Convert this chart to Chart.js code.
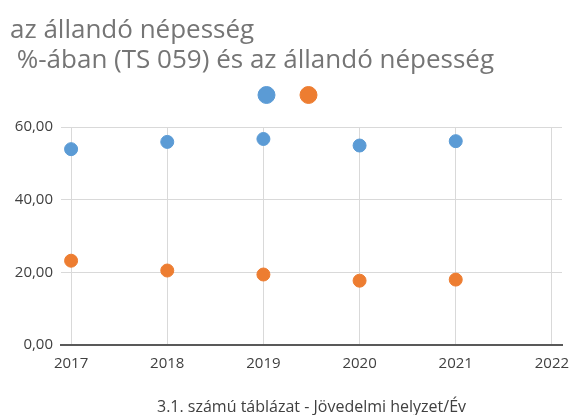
<!DOCTYPE html>
<html>
<head>
<meta charset="utf-8">
<script src="https://cdn.jsdelivr.net/npm/chart.js@4.4.0/dist/chart.umd.min.js"></script>
<style>
  html, body { margin: 0; padding: 0; background: #ffffff; }
  #wrap { width: 571px; height: 415px; }
</style>
</head>
<body>
<div id="wrap"><canvas id="c" width="571" height="415"></canvas></div>
<script>
const years = [2017, 2018, 2019, 2020, 2021];
const xTicks = [2017, 2018, 2019, 2020, 2021, 2022];
const yTicks = [0, 20, 40, 60];
const seriesBlue = [53.9, 55.9, 56.7, 54.9, 56.1];
const seriesOrange = [23.2, 20.5, 19.4, 17.7, 18.0];
const titleLines = ['az állandó népesség', ' %-ában (TS 059) és az állandó népesség'];
const xTitle = '3.1. számú táblázat - Jövedelmi helyzet/Év';

const toPts = (vals) => vals.map((v, i) => ({ x: years[i], y: v }));
const FONT = "'Open Sans', 'Noto Sans', sans-serif";

new Chart(document.getElementById('c'), {
  type: 'scatter',
  data: {
    datasets: [
      { label: '', data: toPts(seriesBlue), backgroundColor: '#5b9bd5', borderColor: '#5b9bd5', pointRadius: 6.5, pointHoverRadius: 6.5 },
      { label: '', data: toPts(seriesOrange), backgroundColor: '#ed7d31', borderColor: '#ed7d31', pointRadius: 6.5, pointHoverRadius: 6.5 }
    ]
  },
  options: {
    responsive: false,
    animation: false,
    devicePixelRatio: 1,
    layout: { autoPadding: false, padding: { left: 10, right: 0, top: 0, bottom: 0 } },
    plugins: {
      tooltip: { enabled: false },
      title: {
        display: true,
        text: titleLines,
        align: 'start',
        color: '#757575',
        font: { family: FONT, size: 26, weight: 'normal', lineHeight: '29.5px' },
        padding: { top: 16, bottom: -10 }
      },
      subtitle: {
        display: true,
        text: '',
        weight: 500,
        font: { family: FONT, size: 10, lineHeight: '16px' },
        padding: 0
      },
      legend: {
        display: true,
        labels: {
          usePointStyle: true,
          pointStyle: 'circle',
          boxWidth: 12,
          boxHeight: 12,
          padding: 24,
          font: { family: FONT, size: 12 },
          color: '#595959'
        }
      }
    },
    scales: {
      x: {
        type: 'linear',
        min: 2016.895,
        max: 2022.105,
        afterBuildTicks: (scale) => { scale.ticks = xTicks.map(v => ({ value: v })); },
        afterFit: (scale) => { scale.paddingLeft = 0; scale.paddingRight = 9; },
        ticks: {
          callback: (v) => String(v),
          color: '#404040',
          font: { family: FONT, size: 15 },
          padding: 10,
          maxRotation: 0,
          autoSkip: false
        },
        grid: { color: '#d9d9d9', lineWidth: 1, drawTicks: false },
        border: { display: true, color: '#595959', width: 2 },
        title: {
          display: true,
          text: xTitle,
          color: '#404040',
          font: { family: FONT, size: 16, lineHeight: 1.0 },
          padding: { top: 16, bottom: 0 }
        }
      },
      y: {
        min: 0,
        max: 60,
        afterBuildTicks: (scale) => { scale.ticks = yTicks.map(v => ({ value: v })); },
        afterFit: (scale) => { scale.width = 51; },
        ticks: {
          callback: (v) => v.toFixed(2).replace('.', ','),
          color: '#404040',
          font: { family: FONT, size: 15 },
          padding: 8
        },
        grid: { color: '#d9d9d9', lineWidth: 1, drawTicks: false },
        border: { display: false }
      }
    }
  }
});
</script>
</body>
</html>
